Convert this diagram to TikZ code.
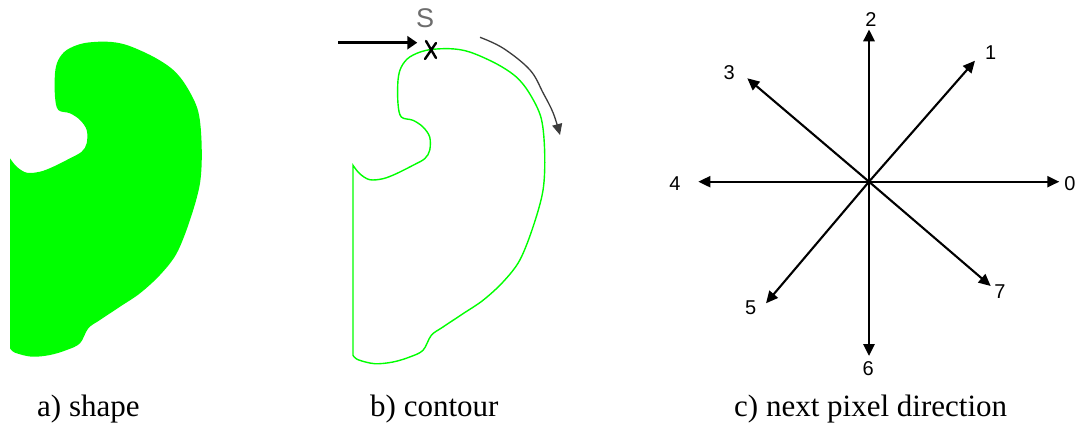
\documentclass[tikz,border=0pt]{standalone}
\usepackage{fontspec}
\setmainfont{Liberation Serif}
\newfontfamily\labelsans{Liberation Sans}
\usetikzlibrary{arrows.meta}

\definecolor{shapegreen}{RGB}{0,255,0}
\definecolor{tracegray}{RGB}{60,60,60}

% outline of the blob, pixel units, y pointing down
\newcommand{\blobpath}{%
  (10,158.3) -- (10,348.3) -- plot[smooth, tension=0.55] coordinates {
    (10,348.3) (15,352.7) (31.7,356.7) (50,355) (66.7,350) (80,343.3)
    (88.3,328.3) (100,320) (120,306.7) (140,293.3) (160,275) (176.7,253.3)
    (190,220) (200,183.3) (201.7,146.7) (198.3,111.7) (186.7,86.7)
    (173.3,70) (153.3,56.7) (126.7,45) (106.7,41.7) (83.3,43.3)
    (66.7,50) (58.3,60) (55,73.3) (55,96.7) (58.3,110) (70,113.3)
    (80,120) (86.7,130) (86.7,143.3) (81.7,151.7) (70,158.3) (53.3,166.7)
    (40,171.7) (26.7,172.7) (16.7,166.7) (10,158.3)} -- cycle}

\tikzset{
  caption/.style={anchor=base west, inner sep=0pt, font=\fontsize{31}{36}\selectfont},
  dirlabel/.style={inner sep=0pt, font=\labelsans\fontsize{20}{24}\selectfont},
  dirarrow/.style={line width=2.1pt, -{Triangle[length=12pt,width=11pt]}},
  startarrow/.style={line width=3.2pt, -{Triangle[length=10pt,width=13pt]}},
  tracearrow/.style={line width=1.3pt, tracegray, -{Triangle[length=11pt,width=10pt]}},
}

\begin{document}
\begin{tikzpicture}[x=1pt, y=-1pt]
\useasboundingbox (0,0) rectangle (1076,428);
\fill[white] (0,0) rectangle (1076,428);

% a) filled shape
\fill[shapegreen] \blobpath;

% b) traced contour
\draw[shapegreen, line width=1.4pt, shift={(343,7)}] \blobpath;
\coordinate (startfrom) at (338,42.7);
\coordinate (startpt) at (431,50);
\node (startto) at (418,42.7) [inner sep=0pt] {};
\draw[startarrow] (startfrom) -- (startto);
\node (slabel) at (425,18.5) [inner sep=0pt, text=tracegray!75,
  font=\labelsans\fontsize{27}{30}\selectfont] {S};
\draw[line width=2.4pt, line cap=round]
  ([shift={(-5,-9)}]startpt) -- ([shift={(5,8)}]startpt)
  ([shift={(5,-7)}]startpt) -- ([shift={(-6,9)}]startpt);
\draw[tracearrow] plot[smooth, tension=0.6] coordinates
  {(480,37.3) (503.3,48.3) (530,70) (543.3,93.3) (553.3,113.3) (560,135)};

% c) eight chain-code directions
\coordinate (ctr) at (869,181.7);
\coordinate (d0) at (1059.3,181.7);
\coordinate (d1) at (975,60.7);
\coordinate (d2) at (869,29.3);
\coordinate (d3) at (747.3,78.3);
\coordinate (d4) at (698.3,181.7);
\coordinate (d5) at (766,303.3);
\coordinate (d6) at (869,356);
\coordinate (d7) at (990.7,286);
\foreach \d in {0,1,3,4,5,7} \draw[dirarrow] (ctr) -- (d\d);
\foreach \d in {2,6} \draw[dirarrow, line width=2.7pt] (ctr) -- (d\d);

\node[dirlabel] (l0) at (1070,183.3) {0};
\node[dirlabel] (l1) at (990.7,52.7) {1};
\node[dirlabel] (l2) at (871,19.3) {2};
\node[dirlabel] (l3) at (729.3,72.7) {3};
\node[dirlabel] (l4) at (675,183.3) {4};
\node[dirlabel] (l5) at (750.7,307.3) {5};
\node[dirlabel] (l6) at (868.3,368.3) {6};
\node[dirlabel] (l7) at (1000,291.7) {7};

% captions
\node[caption] (capa) at (37,416) {a) shape};
\node[caption] (capb) at (370,416) {b) contour};
\node[caption] (capc) at (734,416) {c) next pixel direction};
\end{tikzpicture}
\end{document}
